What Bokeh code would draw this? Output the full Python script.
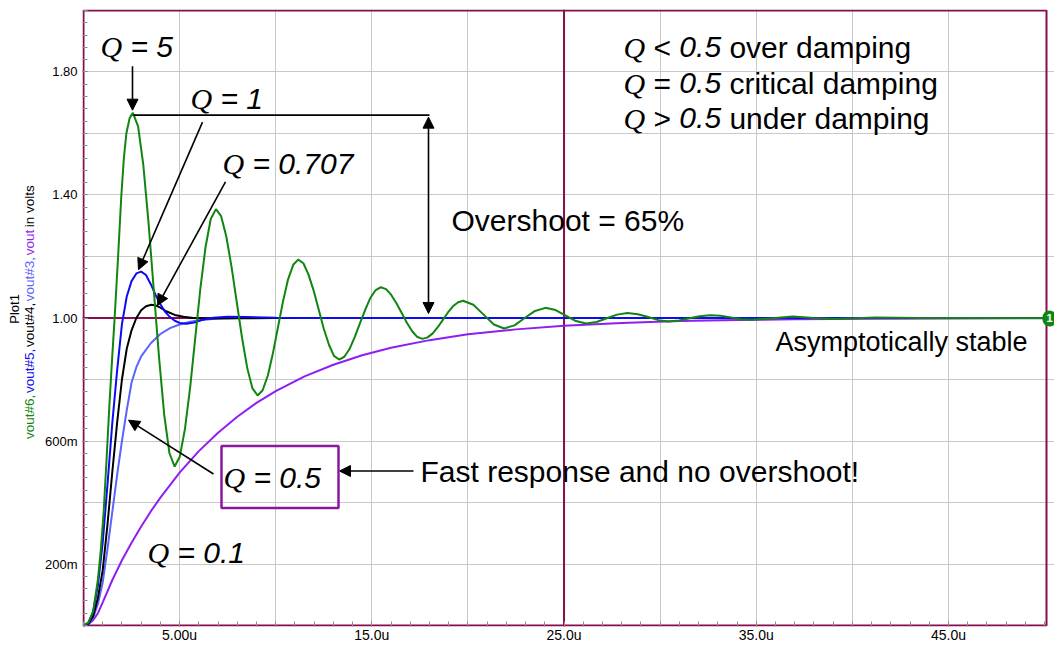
from math import pi
from bokeh.plotting import figure
from bokeh.layouts import row
from bokeh.models import (Range1d, FixedTicker, Span, Label, Arrow, NormalHead,
                          BoxAnnotation, CustomJSTickFormatter)
from bokeh.embed import file_html
from bokeh.resources import INLINE

# ---------------- data (time in us, voltage in V) ----------------
t_q5 = [0, 0.25, 0.5, 0.75, 0.9, 1.05, 1.2, 1.35, 1.5, 1.62, 1.8, 1.97, 2.1, 2.23, 2.4, 2.57,
        2.84, 3.11, 3.38, 3.655, 3.93, 4.2, 4.47, 4.74,
        5.01, 5.28, 5.55, 5.815, 6.08, 6.35, 6.62, 6.89,
        7.16, 7.43, 7.7, 7.975, 8.25, 8.52, 8.79, 9.06,
        9.32, 9.59, 9.85, 10.115, 10.38, 10.64, 10.91, 11.17,
        11.44, 11.7, 11.97, 12.235, 12.5, 12.77, 13.03, 13.3,
        13.57, 13.84, 14.11, 14.385, 14.66, 14.93, 15.2, 15.47,
        15.74, 16.01, 16.28, 16.555, 16.83, 17.1, 17.37, 17.64,
        17.9, 18.17, 18.43, 18.695, 18.96, 19.22, 19.49, 19.75,
        20.28, 20.815, 21.35, 21.88,
        22.42, 22.955, 23.49, 24.03,
        24.56, 25.09, 25.62, 26.15,
        26.69, 27.225, 27.76, 28.3,
        28.84, 29.375, 29.91, 30.45,
        30.99, 31.525, 32.06, 32.6,
        33.14, 33.675, 34.21, 34.75,
        35.825, 36.9, 38.0, 39.05, 41.2, 43.4, 50.0]
v_q5 = [0, 0.01, 0.045, 0.15, 0.245, 0.37, 0.54, 0.72, 0.88, 1.0, 1.2, 1.4, 1.52, 1.6, 1.65, 1.667,
        1.623, 1.499, 1.312, 1.092, 0.872, 0.685, 0.561, 0.517,
        0.549, 0.64, 0.775, 0.936, 1.096, 1.231, 1.322, 1.354,
        1.331, 1.265, 1.167, 1.051, 0.935, 0.837, 0.771, 0.748,
        0.765, 0.813, 0.884, 0.969, 1.054, 1.125, 1.173, 1.19,
        1.178, 1.142, 1.09, 1.028, 0.965, 0.913, 0.877, 0.865,
        0.874, 0.899, 0.938, 0.983, 1.027, 1.066, 1.091, 1.1,
        1.094, 1.075, 1.048, 1.016, 0.984, 0.957, 0.938, 0.932,
        0.937, 0.95, 0.97, 0.994, 1.018, 1.038, 1.051, 1.056,
        1.043, 1.011, 0.979, 0.966,
        0.976, 1.0, 1.023, 1.033,
        1.026, 1.008, 0.99, 0.982,
        0.987, 0.999, 1.011, 1.016,
        1.012, 1.003, 0.993, 0.989,
        0.992, 0.999, 1.006, 1.009,
        1.007, 1.002, 0.996, 0.994,
        0.9995, 1.005, 1.0, 0.997, 1.002, 1.0, 1.0]

t_q1 = [0, 0.25, 0.5, 0.75, 1.0, 1.25, 1.5, 1.75, 2.0, 2.25, 2.5, 2.75, 3.0, 3.25, 3.5, 3.75,
        4.0, 4.25, 4.5, 4.75, 5.0, 5.35, 5.75, 6.25, 6.75, 7.5, 8.5, 10.0, 12.0, 50.0]
v_q1 = [0, 0.006, 0.045, 0.13, 0.27, 0.46, 0.66, 0.83, 0.98, 1.07, 1.12, 1.145, 1.151, 1.14, 1.11, 1.075,
        1.045, 1.02, 1.003, 0.991, 0.984, 0.981, 0.985, 0.995, 1.001, 1.004, 1.003, 1.001, 1.0, 1.0]

t_q0707 = [0, 0.25, 0.5, 0.75, 1.0, 1.25, 1.5, 1.75, 2.0, 2.25, 2.5, 2.75, 3.0, 3.25, 3.53, 3.75,
           4.0, 4.3, 4.75, 5.2, 5.7, 6.5, 8.0, 10.0, 50.0]
v_q0707 = [0, 0.005, 0.03, 0.09, 0.18, 0.33, 0.5, 0.66, 0.8, 0.9, 0.96, 1.0, 1.025, 1.038, 1.043, 1.041,
           1.034, 1.022, 1.01, 1.004, 1.0, 0.998, 0.999, 1.0, 1.0]

t_q05 = [0, 0.25, 0.5, 0.75, 1.0, 1.25, 1.5, 1.75, 2.0, 2.25, 2.5, 2.75, 3.0, 3.5, 4.0, 4.5,
         5.0, 5.5, 6.0, 7.0, 8.0, 50.0]
v_q05 = [0, 0.004, 0.025, 0.07, 0.14, 0.25, 0.37, 0.49, 0.6, 0.7, 0.79, 0.84, 0.875, 0.918, 0.948, 0.967,
         0.979, 0.987, 0.993, 0.998, 1.0, 1.0]

t_q01 = [0, 0.25, 0.5, 0.75, 1.0, 1.5, 2.0, 2.5, 3.0, 3.5, 4.0, 5.0, 6.0, 7.0, 8.0, 9.0, 10.0,
         11.5, 13.0, 14.5, 16.0, 18.0, 20.0, 22.5, 25.0, 28.0, 31.0, 34.0, 37.0, 41.0, 45.0, 50.0]
v_q01 = [0, 0.004, 0.017, 0.04, 0.075, 0.148, 0.212, 0.269, 0.322, 0.371, 0.416, 0.497, 0.567, 0.627,
         0.679, 0.724, 0.762, 0.81, 0.848, 0.879, 0.903, 0.928, 0.947, 0.963, 0.975, 0.984, 0.99,
         0.9934, 0.9958, 0.9977, 0.9987, 0.9994]

x_tick_values = [5, 15, 25, 35, 45]
x_tick_labels = ["5.00u", "15.0u", "25.0u", "35.0u", "45.0u"]
y_tick_values = [0.2, 0.6, 1.0, 1.4, 1.8]
y_tick_labels = ["200m", "600m", "1.00", "1.40", "1.80"]
x_end = 50.1
y_end = 2.0

# ---------------- layout (page pixels) ----------------
PAGE_W, PAGE_H = 1054, 645
TW = 36                     # narrow strip holding the y-axis title
PXU = 963 / x_end           # pixels per microsecond
PYU = 308.5                 # pixels per volt
X_ORIGIN, Y_ORIGIN = 83, 627


def X(px):
    return (px - X_ORIGIN) / PXU


def Y(py):
    return (Y_ORIGIN - py) / PYU


ARIAL = {' ': 278, '!': 278, '#': 556, '%': 889, ',': 278, '.': 278, '<': 584, '=': 584, '>': 584,
         'A': 667, 'F': 611, 'O': 778, 'P': 667, 'Q': 778, 'a': 556, 'b': 556, 'c': 500, 'd': 556,
         'e': 556, 'g': 556, 'h': 556, 'i': 222, 'l': 222, 'm': 833, 'n': 556, 'o': 556, 'p': 556,
         'r': 333, 's': 500, 't': 278, 'u': 556, 'v': 500, 'y': 500}
for _d in "0123456789":
    ARIAL[_d] = 556


def tw(s, size):
    return sum(ARIAL.get(c, 556) for c in s) / 1000.0 * size


MAROON = "#870d4e"
GREEN = "#108510"
BLUE = "#0c0cf2"
LBLUE = "#5a62ff"
PURPLE = "#8e1ef2"
BOXC = "#8a1a9c"
SANS = "Liberation Sans"
SERIF = "Liberation Serif"
BASE_SHIFT = 0.37           # empirical correction of the label baseline (fraction of font size)

FRAME_L, FRAME_T, FRAME_B = 82, 9, 628
p = figure(width=PAGE_W - TW, height=PAGE_H,
           x_range=Range1d(X(FRAME_L), X(PAGE_W)), y_range=Range1d(Y(FRAME_B), Y(FRAME_T)),
           output_backend="svg", toolbar_location=None, title=None,
           min_border_left=FRAME_L - TW, min_border_right=0,
           min_border_top=FRAME_T, min_border_bottom=PAGE_H - FRAME_B)
p.background_fill_color = "white"
p.border_fill_color = "white"
p.outline_line_color = None

fmt_code = ("for (let i = 0; i < vals.length; i++) {"
            " if (Math.abs(tick - vals[i]) < 1e-6) return labs[i]; } return '';")
p.xaxis.ticker = FixedTicker(ticks=x_tick_values, minor_ticks=[float(k) for k in range(0, 51)])
p.xaxis.formatter = CustomJSTickFormatter(args=dict(vals=x_tick_values, labs=x_tick_labels), code=fmt_code)
p.yaxis.ticker = FixedTicker(ticks=y_tick_values, minor_ticks=[round(0.04 * k, 2) for k in range(0, 51)])
p.yaxis.formatter = CustomJSTickFormatter(args=dict(vals=y_tick_values, labs=y_tick_labels), code=fmt_code)

for ax in (p.xaxis[0], p.yaxis[0]):
    ax.axis_line_color = None
    ax.major_tick_in = 5
    ax.major_tick_out = 0
    ax.minor_tick_in = 5
    ax.minor_tick_out = 0
    ax.major_tick_line_color = "#8c8c8c"
    ax.minor_tick_line_color = "#8c8c8c"
    ax.major_label_text_font = SANS
    ax.major_label_text_color = "black"
p.xaxis.major_label_text_font_size = "14px"
p.xaxis.major_label_standoff = 0
p.yaxis.major_label_text_font_size = "13px"
p.yaxis.major_label_standoff = 5

p.xgrid.ticker = FixedTicker(ticks=[5, 10, 15, 20, 30, 35, 40, 45])
p.ygrid.ticker = FixedTicker(ticks=[0.2, 0.4, 0.6, 0.8, 1.2, 1.4, 1.6, 1.8])
p.xgrid.grid_line_color = "#c8c8c8"
p.ygrid.grid_line_color = "#c8c8c8"

# cursors
p.add_layout(Span(location=25, dimension="height", line_color=MAROON, line_width=2, level="underlay"))
p.add_layout(Span(location=1.0, dimension="width", line_color=MAROON, line_width=2, level="underlay"))

# plot border (drawn as a box so the cursor marker can overhang it)
p.add_layout(BoxAnnotation(left=0, right=x_end, bottom=0, top=y_end, fill_alpha=0,
                           line_color=MAROON, line_alpha=1, line_width=2, level="underlay"))

# curves
p.line(t_q01, v_q01, line_color=PURPLE, line_width=2)
p.line(t_q05, v_q05, line_color=LBLUE, line_width=2)
p.line(t_q0707, v_q0707, line_color="black", line_width=2)
p.line(t_q1, v_q1, line_color=BLUE, line_width=2)
p.line(t_q5, v_q5, line_color=GREEN, line_width=2)


def lab(fig, x, y, text, size=30, font=SANS, style="normal", color="black",
        align="left", baseline="alphabetic", angle=0):
    fig.add_layout(Label(x=x, y=y, text=text, text_font=font, text_font_size=f"{size}px",
                         text_font_style=style, text_color=color, text_align=align,
                         text_baseline=baseline, angle=angle))


def plab(px, py, text, size=30, **kw):
    lab(p, X(px), Y(py - BASE_SHIFT * size), text, size=size, **kw)


SP30 = tw(" ", 30)


def qlabel(px, py, rest, size=30):
    plab(px, py, "Q", size=size, font=SERIF, style="italic")
    plab(px + 0.722 * size + SP30, py, rest, size=size, style="italic")


qlabel(100, 57, "= 5")
qlabel(190, 109, "= 1")
qlabel(222, 175, "= 0.707")
qlabel(223, 490, "= 0.5")
qlabel(147, 565, "= 0.1")

# damping summary block
for py, op, tail in [(58, "<", "over damping"), (94, "=", "critical damping"), (129, ">", "under damping")]:
    x = 623
    plab(x, py, "Q", font=SERIF, style="italic")
    x += 0.722 * 30 + SP30
    plab(x, py, op)
    x += tw(op, 30) + SP30
    plab(x, py, "0.5", style="italic")
    x += tw("0.5", 30) + SP30
    plab(x, py, tail)

plab(451, 232, "Overshoot = 65%")
plab(420, 484, "Fast response and no overshoot!")
plab(775, 353, "Asymptotically stable", size=27)

# box around Q = 0.5
p.add_layout(BoxAnnotation(left=X(221), right=X(338), top=Y(447), bottom=Y(509),
                           fill_alpha=0, line_color=BOXC, line_alpha=1, line_width=2.5, level="overlay"))


def arrow(x1, y1, x2, y2, start=False, end=True):
    def head():
        return NormalHead(size=11, fill_color="black", line_color="black", line_width=1)
    p.add_layout(Arrow(x_start=X(x1), y_start=Y(y1), x_end=X(x2), y_end=Y(y2),
                       start=head() if start else None, end=head() if end else None,
                       line_color="black", line_width=1.6))


arrow(132, 66, 132, 110)
arrow(133, 115, 429, 115, end=False)
arrow(428, 314, 428, 117, start=True)
arrow(202, 122, 138, 270)
arrow(225, 182, 157, 306)
arrow(213, 475, 128, 421)
arrow(413, 472, 339, 472)

# cursor marker at the right edge
p.add_layout(Label(x=X(1049), y=Y(319), text="1", text_color="white", text_font=SANS,
                   text_font_style="bold", text_font_size="11px", text_align="center",
                   text_baseline="middle", background_fill_color=GREEN, padding=4, border_radius=8))

# ---------------- y-axis title strip (multi-coloured) ----------------
t = figure(width=TW, height=PAGE_H, x_range=Range1d(0, TW), y_range=Range1d(0, PAGE_H),
           output_backend="svg", toolbar_location=None, title=None,
           x_axis_location=None, y_axis_location=None,
           min_border_left=0, min_border_right=0, min_border_top=0, min_border_bottom=0)
t.outline_line_color = None
t.xgrid.visible = False
t.ygrid.visible = False
t.background_fill_color = "white"
t.border_fill_color = "white"

lab(t, 14, PAGE_H - 313, "Plot1", size=13, angle=pi / 2, align="center", baseline="middle")
pieces = [("vout#6,", GREEN), ("vout#5,", BLUE), ("vout#4,", "black"), ("vout#3,", LBLUE),
          ("vout", PURPLE), ("in volts", "black")]
yy = 449
for txt, col in pieces:
    lab(t, 29, PAGE_H - yy, txt, size=13.5, color=col, angle=pi / 2, baseline="middle")
    yy -= tw(txt + " ", 13.5)

open("out.html", "w").write(file_html(row(t, p), INLINE))
